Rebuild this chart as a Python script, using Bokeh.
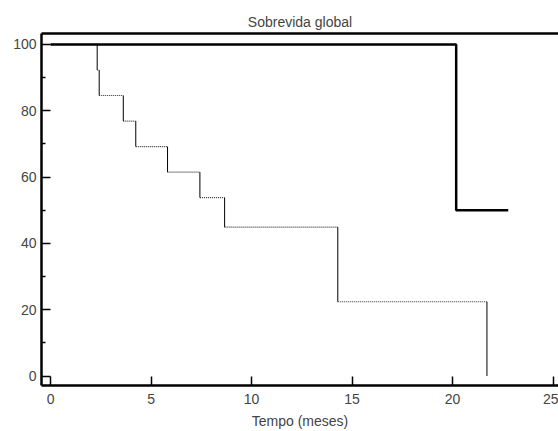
from bokeh.plotting import figure
from bokeh.models import LinearAxis, Range1d, FixedTicker
from bokeh.embed import file_html
from bokeh.resources import INLINE

# Data (Kaplan-Meier steps)
times_a = [0, 20.18, 22.77]
surv_a = [100, 50, 50]

times_b = [0, 2.32, 2.42, 3.62, 4.24, 5.82, 7.43, 8.66, 14.29, 21.71]
surv_b = [100, 92.3, 84.6, 76.9, 69.2, 61.5, 53.8, 44.9, 22.4, 0]

x_ticks = [0, 5, 10, 15, 20, 25]
y_ticks = [0, 20, 40, 60, 80, 100]
y_minor = [10, 30, 50, 70, 90]

FONT = "Liberation Sans"
FS = "14px"

p = figure(width=558, height=431, output_backend="svg", toolbar_location=None,
           x_range=Range1d(-0.45, 25.27), y_range=Range1d(-2.85, 103.3),
           x_axis_label="Tempo (meses)", title="Sobrevida global",
           min_border_left=41, min_border_right=0, min_border_top=33, min_border_bottom=46)

p.outline_line_color = None
p.grid.visible = False
p.background_fill_color = "white"
p.border_fill_color = "white"

p.title.align = "center"
p.title.text_font = FONT
p.title.text_font_size = FS
p.title.text_font_style = "normal"
p.title.offset = 0
p.title.standoff = 8

for ax in p.xaxis:
    ax.ticker = FixedTicker(ticks=x_ticks)
    ax.axis_line_width = 2.5
    ax.major_tick_in = 9
    ax.major_tick_out = 0
    ax.major_tick_line_width = 1.5
    ax.minor_tick_line_color = None
    ax.major_label_text_font = FONT
    ax.major_label_text_font_size = FS
    ax.major_label_standoff = 8
    ax.axis_label_text_font = FONT
    ax.axis_label_text_font_size = FS
    ax.axis_label_text_font_style = "normal"
    ax.axis_label_standoff = 6

for ax in p.yaxis:
    ax.ticker = FixedTicker(ticks=y_ticks, minor_ticks=y_minor)
    ax.axis_line_width = 2.5
    ax.major_tick_in = 9
    ax.major_tick_out = 0
    ax.minor_tick_in = 4
    ax.minor_tick_out = 0
    ax.major_tick_line_width = 1.5
    ax.minor_tick_line_width = 1.5
    ax.major_label_text_font = FONT
    ax.major_label_text_font_size = FS
    ax.major_label_standoff = 5

top = LinearAxis(ticker=FixedTicker(ticks=[]), axis_line_width=2.5,
                 major_tick_line_color=None, minor_tick_line_color=None,
                 major_label_standoff=0)
p.add_layout(top, "above")

# thin curve: dotted horizontals, solid verticals
hx0 = times_b[:-1]
hx1 = times_b[1:]
hy = surv_b[:-1]
p.segment(x0=hx0, y0=hy, x1=hx1, y1=hy, line_color="#333333", line_width=1.2, line_dash="1 1")
vx = times_b[1:]
vy0 = surv_b[:-1]
vy1 = surv_b[1:]
p.segment(x0=vx, y0=vy0, x1=vx, y1=vy1, line_color="black", line_width=1)

# thick curve
p.step(times_a, surv_a, mode="after", line_color="black", line_width=2.5)

open("out.html", "w").write(file_html(p, INLINE))
